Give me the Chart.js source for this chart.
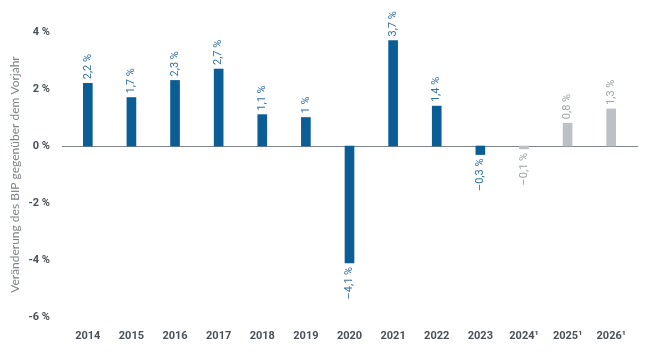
<!DOCTYPE html>
<html>
<head>
<meta charset="utf-8">
<script src="https://cdn.jsdelivr.net/npm/chart.js@4/dist/chart.umd.min.js"></script>
<style>
html,body{margin:0;padding:0;background:#fff;}
#wrap{width:650px;height:360px;}
</style>
</head>
<body>
<div id="wrap"><canvas id="c" width="650" height="360"></canvas></div>
<script>
const years = ["2014","2015","2016","2017","2018","2019","2020","2021","2022","2023","2024¹","2025¹","2026¹"];
const gdpChange = [2.2, 1.7, 2.3, 2.7, 1.1, 1.0, -4.1, 3.7, 1.4, -0.3, -0.1, 0.8, 1.3];
const isForecast = [false,false,false,false,false,false,false,false,false,false,true,true,true];
const yTicks = [4, 2, 0, -2, -4, -6];
const yTitle = "Veränderung des BIP gegenüber dem Vorjahr";

const BLUE = "#0a5d95";
const GREY = "#bdc1c5";
const BLUE_TXT = "#3372a0";
const GREY_TXT = "#9ea3a8";

function fmtLabel(v){
  const a = Math.abs(v);
  let s = (Math.round(a*10)%10===0) ? String(Math.round(a)) : a.toFixed(1).replace(".", ",");
  return (v < 0 ? "\u2013" : "") + s + " %";
}

const zeroLine = {
  id: "zeroLine",
  beforeDatasetsDraw(chart){
    const {ctx, chartArea, scales} = chart;
    const y = Math.round(scales.y.getPixelForValue(0)) + 0.5;
    ctx.save();
    ctx.strokeStyle = "#7f858a";
    ctx.lineWidth = 1;
    ctx.beginPath();
    ctx.moveTo(chartArea.left - 4, y);
    ctx.lineTo(chartArea.right + 5, y);
    ctx.stroke();
    ctx.restore();
  }
};

const barLabels = {
  id: "barLabels",
  afterDatasetsDraw(chart){
    const {ctx} = chart;
    const meta = chart.getDatasetMeta(0);
    ctx.save();
    ctx.font = "11px Roboto";
    ctx.textBaseline = "middle";
    meta.data.forEach((bar, i) => {
      const v = gdpChange[i];
      const txt = fmtLabel(v);
      ctx.fillStyle = isForecast[i] ? GREY_TXT : BLUE_TXT;
      ctx.save();
      if (v >= 0) {
        ctx.translate(bar.x, bar.y - 4);
        ctx.rotate(-Math.PI/2);
        ctx.textAlign = "left";
      } else {
        ctx.translate(bar.x, bar.y + 4);
        ctx.rotate(-Math.PI/2);
        ctx.textAlign = "right";
      }
      ctx.fillText(txt, 0, 0);
      ctx.restore();
    });
    ctx.restore();
  }
};

new Chart(document.getElementById("c"), {
  type: "bar",
  data: {
    labels: years,
    datasets: [{
      data: gdpChange,
      backgroundColor: gdpChange.map((v,i) => isForecast[i] ? GREY : BLUE),
      barThickness: 9,
      borderWidth: 0
    }]
  },
  options: {
    responsive: false,
    animation: false,
    events: [],
    layout: { padding: { top: 32, right: 17, bottom: 0, left: 0 } },
    plugins: { legend: { display: false }, tooltip: { enabled: false } },
    scales: {
      x: {
        grid: { display: false, drawTicks: false },
        border: { display: false },
        ticks: {
          padding: 13,
          color: "#4b5056",
          font: { family: "Roboto", size: 11, weight: "bold" },
          maxRotation: 0, autoSkip: false
        },
        afterFit(scale){ scale.height = 43; }
      },
      y: {
        min: -6, max: 4,
        afterBuildTicks(scale){ scale.ticks = yTicks.map(v => ({value: v})); },
        grid: { display: false, drawTicks: false },
        border: { display: false },
        ticks: {
          padding: 16,
          color: "#4b5056",
          font: { family: "Roboto", size: 11, weight: "bold" },
          callback: v => v + " %"
        },
        title: {
          display: true,
          text: yTitle,
          color: "#7d8287",
          font: { family: "Lato", size: 12 },
          padding: { top: 8, bottom: 0 }
        },
        afterFit(scale){ scale.width = 66; }
      }
    }
  },
  plugins: [zeroLine, barLabels]
});
</script>
</body>
</html>
